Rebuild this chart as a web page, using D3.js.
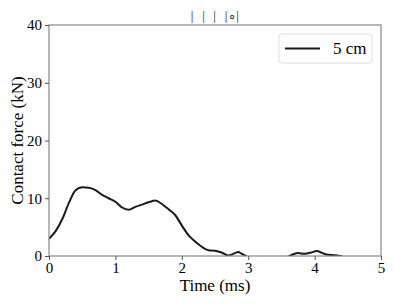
<!DOCTYPE html>
<html>
<head>
<meta charset="utf-8">
<script src="https://cdn.jsdelivr.net/npm/d3@7"></script>
<style>
  body { margin: 0; background: #fff; }
  svg text { font-family: "Liberation Serif", "Times New Roman", serif; }
</style>
</head>
<body>
<svg id="chart" width="395" height="304"></svg>
<script>
// time (ms) and contact force (kN)
const time = [0, 0.1, 0.2, 0.3, 0.4, 0.5, 0.6, 0.7, 0.8, 0.9, 1.0, 1.1, 1.2, 1.3, 1.4, 1.5, 1.6, 1.7, 1.8, 1.9,
  2.0, 2.1, 2.2, 2.3, 2.4, 2.5, 2.6, 2.7, 2.8, 2.85, 2.9, 3.0, 3.2, 3.4, 3.6, 3.68, 3.75, 3.85, 3.95, 4.03, 4.12, 4.2, 4.3, 4.38, 4.5, 4.75, 5.0];
const force = [3.0, 4.3, 6.4, 9.2, 11.4, 11.9, 11.8, 11.4, 10.6, 10.0, 9.4, 8.4, 8.0, 8.5, 8.9, 9.3, 9.6, 9.0, 8.1, 7.1,
  5.3, 3.6, 2.5, 1.6, 1.0, 0.9, 0.6, 0.1, 0.5, 0.7, 0.4, -0.2, -0.6, -0.5, -0.1, 0.3, 0.5, 0.4, 0.6, 0.85, 0.5, 0.2, 0.15, 0.0, -0.4, -0.6, -0.5];
const xTicks = [0, 1, 2, 3, 4, 5];
const yTicks = [0, 10, 20, 30, 40];
const seriesName = "5 cm";
const titleGlyphs = ["|", "|", "|", "|", "∘", "|"];

const svg = d3.select("#chart");
const margin = {left: 49, right: 14, top: 25, bottom: 48};
const width = 395 - margin.left - margin.right,
      height = 304 - margin.top - margin.bottom;

const x = d3.scaleLinear().domain([0, 5]).range([0, width]);
const y = d3.scaleLinear().domain([0, 40]).range([height, 0]);

const g = svg.append("g").attr("transform", "translate(" + margin.left + "," + margin.top + ")");

svg.append("defs").append("clipPath").attr("id", "clip")
  .append("rect").attr("width", width).attr("height", height);

// curve
const data = time.map((t, i) => ({t: t, f: force[i]}));
g.append("path")
  .datum(data)
  .attr("clip-path", "url(#clip)")
  .attr("fill", "none")
  .attr("stroke", "#1a1a1a")
  .attr("stroke-width", 2)
  .attr("d", d3.line().x(d => x(d.t)).y(d => y(d.f)).curve(d3.curveMonotoneX));

// frame
g.append("rect")
  .attr("width", width).attr("height", height)
  .attr("fill", "none").attr("stroke", "#888").attr("stroke-width", 1.2);

const xAxis = g.append("g").attr("transform", "translate(0," + height + ")")
  .call(d3.axisBottom(x).tickValues(xTicks).tickSize(4).tickPadding(2).tickFormat(d3.format("d")));
const yAxis = g.append("g")
  .call(d3.axisLeft(y).tickValues(yTicks).tickSize(4).tickPadding(3).tickFormat(d3.format("d")));
[xAxis, yAxis].forEach(a => {
  a.attr("font-family", "Liberation Serif").attr("font-size", 15);
  a.select(".domain").remove();
  a.selectAll("line").attr("stroke", "#555");
  a.selectAll("text").attr("fill", "#000");
});

// axis labels
svg.append("text")
  .attr("x", margin.left + width / 2).attr("y", 291)
  .attr("text-anchor", "middle").attr("font-size", 17)
  .text("Time (ms)");
svg.append("text")
  .attr("transform", "translate(23," + (margin.top + height / 2) + ") rotate(-90)")
  .attr("text-anchor", "middle").attr("font-size", 17)
  .text("Contact force (kN)");

// title glyphs
const titleX = [192, 203.5, 214.5, 226, 231.8, 237.5];
svg.append("g").selectAll("text")
  .data(titleGlyphs)
  .join("text")
  .attr("x", (d, i) => titleX[i]).attr("y", 20)
  .attr("text-anchor", "middle").attr("font-size", 13).attr("fill", "#222")
  .text(d => d);

// legend
const lg = svg.append("g").attr("transform", "translate(279,34)");
lg.append("rect").attr("width", 93).attr("height", 29).attr("rx", 3)
  .attr("fill", "#fff").attr("stroke", "#ddd");
lg.append("line").attr("x1", 6).attr("x2", 41).attr("y1", 14.5).attr("y2", 14.5)
  .attr("stroke", "#1a1a1a").attr("stroke-width", 2);
lg.append("text").attr("x", 54).attr("y", 20).attr("font-size", 17).text(seriesName);
</script>
</body>
</html>
